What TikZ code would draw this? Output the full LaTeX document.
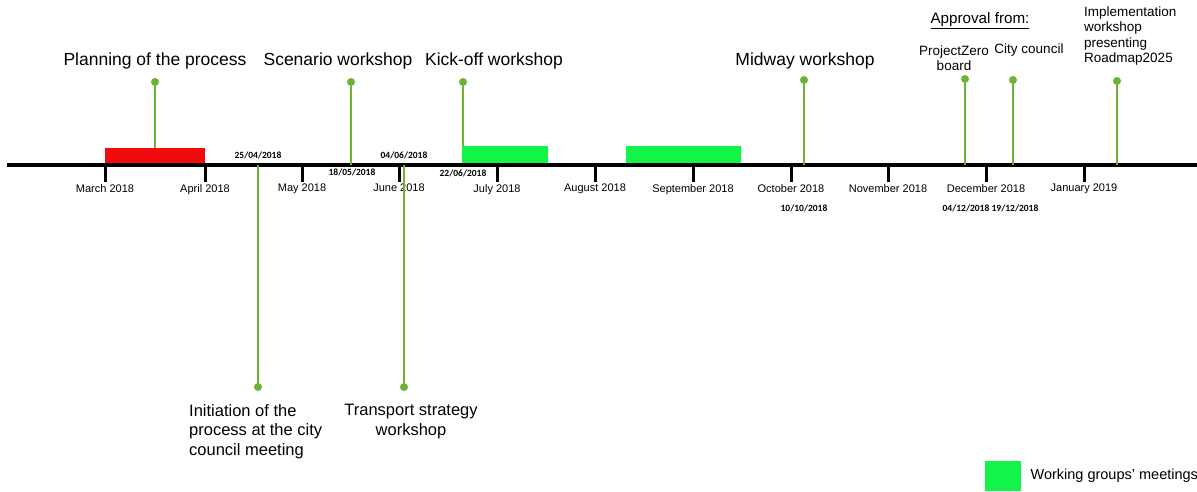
\documentclass[tikz,border=0pt]{standalone}
\usepackage{fontspec}
\setmainfont{Liberation Sans}
\newfontfamily\datefont{Carlito}
\usetikzlibrary{positioning}
\definecolor{stemgreen}{RGB}{108,178,52}
\definecolor{barred}{RGB}{240,12,12}
\definecolor{bargreen}{RGB}{18,245,72}

\begin{document}
\begin{tikzpicture}[x=1pt,y=-1pt,
		month/.style={inner sep=0pt, font=\fontsize{11}{13}\selectfont},
		tick/.style={line width=3pt},
		stem/.style={draw=stemgreen, line width=2pt},
		dot/.style={circle, fill=stemgreen, inner sep=0pt, minimum size=8pt},
		datelabel/.style={inner sep=0pt, font=\datefont\bfseries\fontsize{9.5}{11}\selectfont},
		event/.style={inner sep=0pt, font=\fontsize{17.5}{20}\selectfont},
		eventlow/.style={inner sep=0pt, font=\fontsize{16.5}{19.5}\selectfont},
		eventsmall/.style={inner sep=0pt, font=\fontsize{13.5}{15.5}\selectfont},
		redbar/.style={fill=barred, inner sep=0pt, anchor=south west},
		greenbar/.style={fill=bargreen, inner sep=0pt, anchor=south west}]
		\useasboundingbox (0,0) rectangle (1197,491);
		% bars
		\node[redbar, minimum width=100pt, minimum height=17pt] (planbar) at (105,165) {};
		\node[greenbar, minimum width=86pt, minimum height=19pt] (wgbarA) at (462,165) {};
		\node[greenbar, minimum width=115pt, minimum height=19pt] (wgbarB) at (626,165) {};
		% axis
		\coordinate (axstart) at (7,165);
		\coordinate (axend) at (1197,165);
		\draw[line width=4.5pt] (axstart) -- (axend);
		\foreach \x/\m/\txt in {105/mar/March 2018, 205/apr/April 2018, 302/may/May 2018,
			399/jun/June 2018, 497/jul/July 2018, 595/aug/August 2018, 693/sep/September 2018,
			791/oct/October 2018, 888/nov/November 2018, 986/dec/December 2018, 1084/jan/January 2019}{
			\coordinate (\m) at (\x,165);
			\node[month, below=19pt of \m] (\m lab) {\txt};
			\draw[tick] (\m) -- ([yshift=2pt]\m lab.north);
		}
		% events above
		\node[dot] (plandot) at (155,82) {};
		\node[event] (plan) at (155,61) {Planning of the process};
		\draw[stem] (plandot) -- (plandot |- planbar.north);
		\node[dot] (scendot) at (351,82) {};
		\node[event] (scen) at (338,61) {Scenario workshop};
		\draw[stem] (scendot) -- (scendot |- axstart);
		\node[datelabel] (scendate) at (352,172) {18/05/2018};
		\node[dot] (kickdot) at (463,82) {};
		\node[event] (kick) at (494,61) {Kick-off workshop};
		\draw[stem] (kickdot) -- (kickdot |- wgbarA.north);
		\node[datelabel] (kickdate) at (463,173) {22/06/2018};
		\node[dot] (middot) at (804,80) {};
		\node[event] (mid) at (805,61) {Midway workshop};
		\draw[stem] (middot) -- (middot |- axstart);
		\node[datelabel] (middate) at (804,208) {10/10/2018};
		% approval
		\node[inner sep=0pt, font=\fontsize{15.2}{18}\selectfont] (approval) at (980,21) {\underline{Approval from:}};
		\node[dot] (pzbdot) at (965,79) {};
		\node[eventsmall, align=center] (pzb) at (954,58) {ProjectZero\\board};
		\draw[stem] (pzbdot) -- (pzbdot |- axstart);
		\node[datelabel] (pzbdate) at (966,208) {04/12/2018};
		\node[dot] (citydot) at (1013,80) {};
		\node[eventsmall] (city) at (1029,50) {City council};
		\draw[stem] (citydot) -- (citydot |- axstart);
		\node[datelabel] (citydate) at (1015,208) {19/12/2018};
		\node[dot] (impldot) at (1117,81) {};
		\node[eventsmall, align=left, anchor=west] (impl) at (1084,36) {Implementation\\workshop\\presenting\\Roadmap2025};
		\draw[stem] (impldot) -- (impldot |- axstart);
		% events below
		\node[dot] (initdot) at (258,387) {};
		\node[eventlow, align=left, anchor=north west] (init) at (189,404) {Initiation of the\\process at the city\\council meeting};
		\draw[stem] (initdot) -- (initdot |- axstart);
		\node[datelabel] (initdate) at (258,155) {25/04/2018};
		\node[dot] (transdot) at (404,387) {};
		\node[eventlow, align=center, anchor=north] (trans) at (411,404) {Transport strategy\\workshop};
		\draw[stem] (transdot) -- (transdot |- axstart);
		\node[datelabel] (transdate) at (404,155) {04/06/2018};
		% legend
		\node[fill=bargreen, inner sep=0pt, minimum width=36pt, minimum height=30pt, anchor=north west] (legbox) at (985,461) {};
		\node[inner sep=0pt, font=\fontsize{14.5}{17}\selectfont, right=9pt of legbox] (legtext) {Working groups' meetings};
	\end{tikzpicture}
\end{document}
